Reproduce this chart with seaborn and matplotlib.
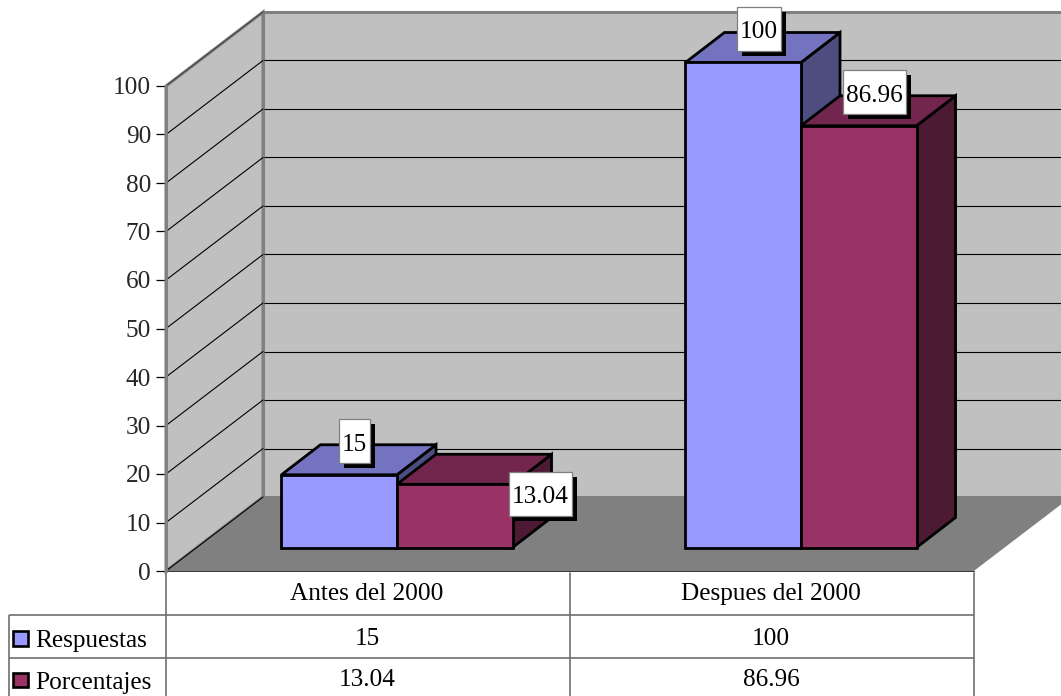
import matplotlib
matplotlib.use("Agg")
import matplotlib.pyplot as plt
import pandas as pd
import seaborn as sns
from matplotlib.patches import Polygon, Rectangle

periodos = ["Antes del 2000", "Despues del 2000"]
series = ["Respuestas", "Porcentajes"]
respuestas = [15, 100]
porcentajes = [13.04, 86.96]
y_ticks = [0, 10, 20, 30, 40, 50, 60, 70, 80, 90, 100]

FRONT = {"Respuestas": "#9999FF", "Porcentajes": "#993366"}
TOP = {"Respuestas": "#7373BF", "Porcentajes": "#73264D"}
SIDE = {"Respuestas": "#4D4D80", "Porcentajes": "#4D1A33"}
WALL = "#C0C0C0"
FLOOR = "#808080"
GRID_GREY = "#6E6E6E"
FONT_SIZE = 18.2
BAR_LW = 2.0

W, H = 1061, 696
PX_X = 1 / 404  # category units per pixel
PX_Y = 1 / 4.85  # value units per pixel

sns.set_theme(style="white")
plt.rcParams["font.family"] = ["Liberation Serif", "DejaVu Serif"]

df = pd.DataFrame({
    "periodo": periodos * 2,
    "serie": [series[0]] * 2 + [series[1]] * 2,
    "valor": respuestas + porcentajes,
})

fig = plt.figure(figsize=(W / 100, H / 100), dpi=100, facecolor="white")
ax = fig.add_axes([166 / W, (H - 571) / H, 808 / W, 485 / H])
bar_ax = fig.add_axes([195 / W, (H - 547.5) / H, 808 / W, 485 / H], zorder=2)
bar_ax.patch.set_visible(False)

# walls and floor
dx, dy = 97 * PX_X, 74 * PX_Y
x0, x1 = -0.5, 1.5
ax.set_xlim(x0, x1)
ax.set_ylim(0, 100)
ax.set_facecolor("none")
ax.add_patch(Polygon([(x0 + dx, dy), (x1 + dx, dy), (x1 + dx, 100 + dy), (x0 + dx, 100 + dy)],
                     fc=WALL, ec=FLOOR, lw=2.2, clip_on=False, zorder=1))
ax.add_patch(Polygon([(x0, 0), (x0, 100), (x0 + dx, 100 + dy), (x0 + dx, dy)],
                     fc=WALL, ec=FLOOR, lw=2.2, clip_on=False, zorder=1.2))
ax.add_patch(Polygon([(x0, 0), (x1, 0), (x1 + dx, dy), (x0 + dx, dy)],
                     fc=FLOOR, ec=FLOOR, lw=1, clip_on=False, zorder=1.4))
ax.plot([x0, x1, x1 + dx], [-0.15, -0.15, dy - 0.15], color="white", lw=1, clip_on=False, zorder=1.45)
ax.plot([x0, x1], [0, 0], color="#333333", lw=0.7, clip_on=False, zorder=1.5)
ax.plot([x0, x0 + dx], [0, dy], color="black", lw=0.8, clip_on=False, zorder=1.5)
ax.plot([x0, x0 + dx], [100, 100 + dy], color="#333333", lw=0.6, clip_on=False, zorder=1.5)
for v in y_ticks[1:-1]:
    ax.plot([x0, x0 + dx], [v, v + dy], color="black", lw=0.8, clip_on=False, zorder=1.5)
    ax.plot([x0 + dx, x1 + dx], [v + dy, v + dy], color="black", lw=0.8, clip_on=False, zorder=1.1)

ax.set_xticks([])
ax.set_yticks(y_ticks)
ax.tick_params(axis="y", left=True, length=7.2, width=0.9, color="black", pad=3.5, labelsize=FONT_SIZE)
for side in ["top", "right", "bottom"]:
    ax.spines[side].set_visible(False)
ax.spines["left"].set_color(FLOOR)
ax.spines["left"].set_linewidth(2.0)
ax.spines["left"].set_zorder(1.6)

# bars
sns.barplot(data=df, x="periodo", y="valor", hue="serie", hue_order=series, order=periodos,
            palette=FRONT, width=0.572, gap=0, saturation=1, edgecolor="black", linewidth=BAR_LW,
            errorbar=None, legend=False, ax=bar_ax)
bar_ax.set_xlim(x0, x1)
bar_ax.set_ylim(0, 100)
bar_ax.axis("off")

bx, by = 39 * PX_X, 30 * PX_Y
# pixel nudge (right, up) of each value box from the middle of its bar top
label_nudge = [(-4, 18.5), (-4, 18.5), (66, -24.5), (-3.5, 18.5)]
names = [series[0]] * 2 + [series[1]] * 2
values = respuestas + porcentajes
renderer = fig.canvas.get_renderer()
for i, bar in enumerate(list(bar_ax.patches)):
    name = names[i]
    z = 3 if name == series[0] else 4
    left, width, top = bar.get_x(), bar.get_width(), bar.get_height()
    right = left + width
    bar_ax.add_patch(Polygon([(right, 0), (right + bx, by), (right + bx, top + by), (right, top)],
                             fc=SIDE[name], ec="black", lw=BAR_LW, joinstyle="miter", clip_on=False, zorder=z))
    bar_ax.add_patch(Polygon([(left, top), (left + bx, top + by), (right + bx, top + by), (right, top)],
                             fc=TOP[name], ec="black", lw=BAR_LW, joinstyle="miter", clip_on=False, zorder=z))
    bar.set_zorder(z + 0.1)
    bar.set_clip_on(False)

    # value box with a hard shadow
    cx = left + width / 2 + bx / 2 + label_nudge[i][0] * PX_X
    cy = top + by / 2 + label_nudge[i][1] * PX_Y
    t = bar_ax.text(cx, cy - 1 * PX_Y, f"{values[i]:g}", ha="center", va="center_baseline", fontsize=FONT_SIZE,
                    color="black", zorder=12, clip_on=False)
    box_w = (t.get_window_extent(renderer).width + 6) * PX_X
    box_h = 44 * PX_Y
    bar_ax.add_patch(Rectangle((cx - box_w / 2 + 5 * PX_X, cy - box_h / 2 - 5 * PX_Y), box_w, box_h,
                               fc="black", ec="black", lw=0, clip_on=False, zorder=10))
    bar_ax.add_patch(Rectangle((cx - box_w / 2, cy - box_h / 2), box_w, box_h,
                               fc="white", ec=FLOOR, lw=0.9, clip_on=False, zorder=11))


# data table, laid out in pixels of the reference
def tx(px):
    return x0 + (px - 166) * PX_X


def ty(py):
    return (571 - py) * PX_Y


def rule(xs, ys):
    ax.plot([tx(p) for p in xs], [ty(p) for p in ys], color=GRID_GREY, lw=1.2, clip_on=False, zorder=1,
            solid_capstyle="butt")


for px in [166, 570, 974]:
    rule([px, px], [571, 696])
rule([8.5, 8.5], [615, 696])
for py in [615, 658]:
    rule([8.5, 974], [py, py])

col_centers = [367, 771]
for px, label, a, b in zip(col_centers, periodos, respuestas, porcentajes):
    ax.text(tx(px), ty(594), label, ha="center", va="center", fontsize=FONT_SIZE, color="black", clip_on=False)
    ax.text(tx(px), ty(639), f"{a:g}", ha="center", va="center", fontsize=FONT_SIZE, color="black", clip_on=False)
    ax.text(tx(px), ty(680), f"{b:g}", ha="center", va="center", fontsize=FONT_SIZE, color="black", clip_on=False)

for name, key_top, text_y in zip(series, [631, 672.5], [641, 683]):
    ax.add_patch(Rectangle((tx(13), ty(key_top + 14.5)), 14.5 * PX_X, 14.5 * PX_Y, fc=FRONT[name], ec="black",
                           lw=1.9, clip_on=False))
    ax.text(tx(35.5), ty(text_y), name, ha="left", va="center", fontsize=FONT_SIZE, color="black", clip_on=False)

fig.savefig("out.png", dpi=100, facecolor="white")
